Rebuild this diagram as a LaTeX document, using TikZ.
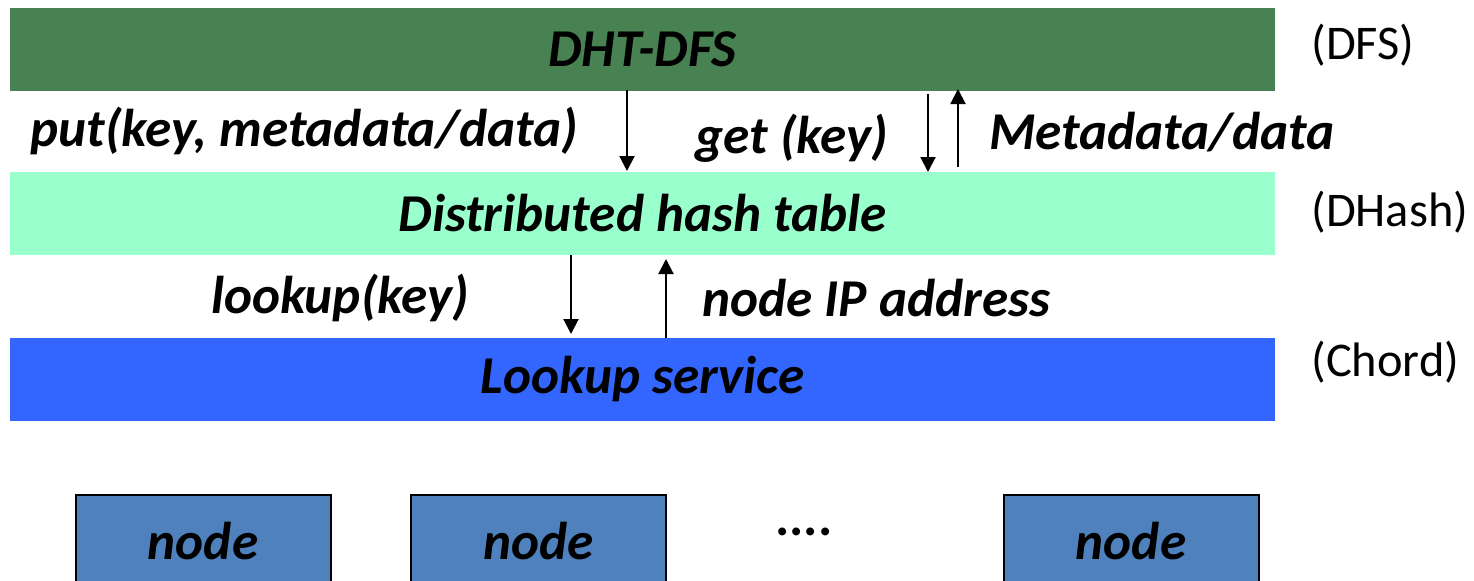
\documentclass[tikz,border=0pt]{standalone}
\usepackage{fontspec}
\setmainfont{Carlito}
\usetikzlibrary{arrows.meta}
\definecolor{dfsgreen}{RGB}{72,129,82}
\definecolor{dhashgreen}{RGB}{153,255,204}
\definecolor{chordblue}{RGB}{51,102,255}
\definecolor{nodeblue}{RGB}{79,129,189}
\tikzset{
  layer/.style={draw=none, minimum width=632.5pt, minimum height=41.5pt, inner sep=0pt,
     font=\fontsize{26.6}{29}\selectfont\bfseries\itshape},
  lbl/.style={font=\fontsize{26.6}{29}\selectfont\bfseries\itshape, inner sep=0pt},
  side/.style={font=\fontsize{24.2}{27}\selectfont, inner sep=0pt, anchor=west},
  pnode/.style={draw=black, line width=1pt, fill=nodeblue, minimum width=127.5pt, minimum height=50pt, inner sep=0pt},
  arr/.style={-{Triangle[length=7.5pt,width=7.5pt]}, line width=1pt}
}
\begin{document}
\begin{tikzpicture}[x=0.5pt,y=-0.5pt]
\useasboundingbox (0,0) rectangle (1474,580);
\clip (0,0) rectangle (1474,580);
\node[layer, fill=dfsgreen] (dfs) at (642.5,49) {DHT-DFS};
\node[layer, fill=dhashgreen] (dht) at (642.5,213.5) {Distributed hash table};
\node[layer, fill=chordblue] (ls) at (642.5,379.5) {Lookup service};
\node[side] (sdfs) at (1311,45) {(DFS)};
\node[side] (sdh) at (1311,212) {(DHash)};
\node[side] (sch) at (1311,362) {(Chord)};
% arrows between DFS and DHT
\coordinate (a1s) at (627,90); \coordinate (a1e) at (627,171);
\coordinate (a2s) at (928,94); \coordinate (a2e) at (928,172);
\coordinate (a3s) at (958,167); \coordinate (a3e) at (958,89);
\draw[arr] (a1s) -- (a1e);
\draw[arr] (a2s) -- (a2e);
\draw[arr] (a3s) -- (a3e);
\node[lbl] (put) at (304,131) {put(key, metadata/data)};
\node[lbl] (get) at (792,138) {get (key)};
\node[lbl, anchor=west] (md) at (989,132) {Metadata/data};
% arrows between DHT and lookup
\coordinate (b1s) at (571,255); \coordinate (b1e) at (571,334);
\coordinate (b2s) at (666,338); \coordinate (b2e) at (666,259);
\draw[arr] (b1s) -- (b1e);
\draw[arr] (b2s) -- (b2e);
\node[lbl] (lk) at (340,298) {lookup(key)};
\node[lbl, anchor=west] (ip) at (702,298) {node IP address};
% nodes
\node[pnode] (n1) at (203,545) {};
\node[pnode] (n2) at (538.5,545) {};
\node[pnode] (n3) at (1131,545) {};
\node[lbl] (t1) at (203,541) {node};
\node[lbl] (t2) at (538.5,541) {node};
\node[lbl] (t3) at (1131,541) {node};
\node[lbl] (dots) at (805,532) {....};
\end{tikzpicture}
\end{document}
